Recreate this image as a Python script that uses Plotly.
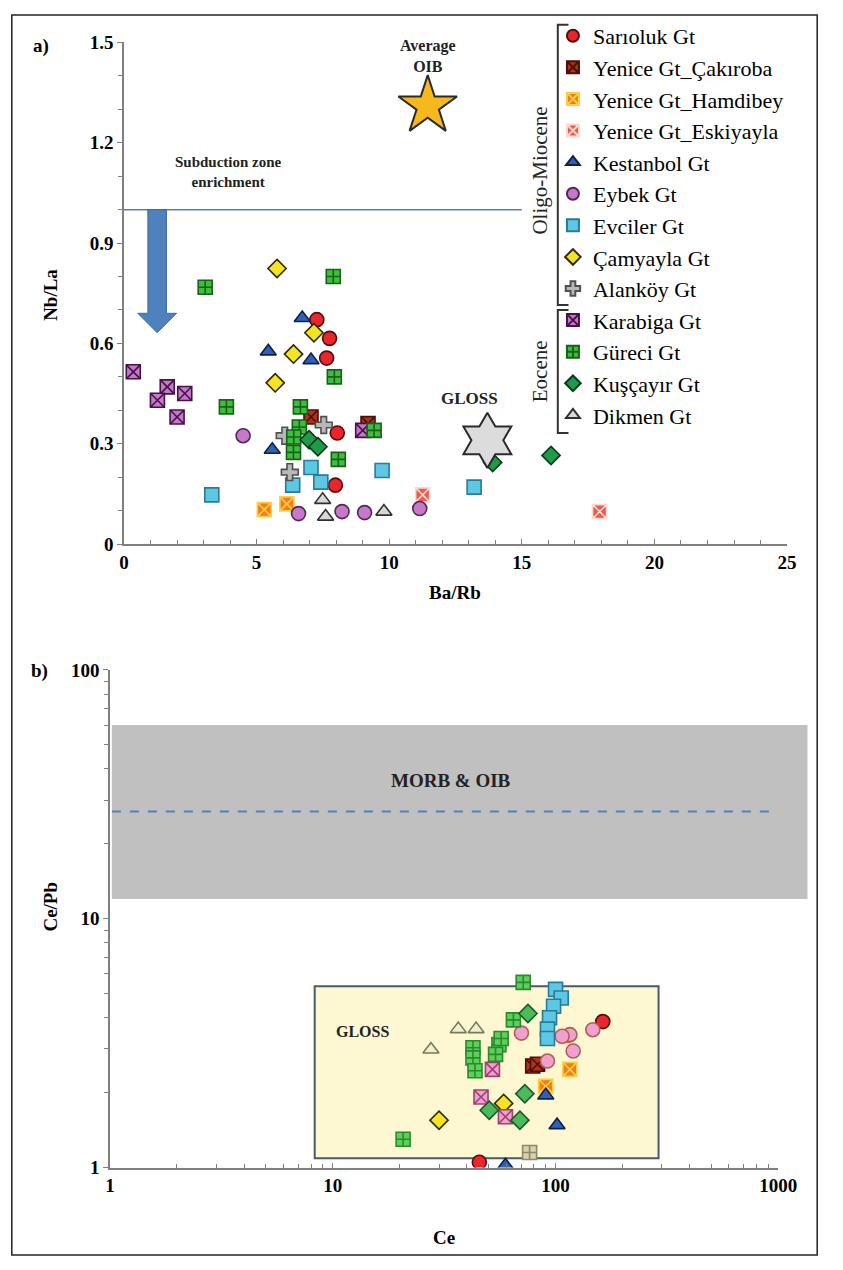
import plotly.graph_objects as go

W, H = 843, 1270

def px(x):
    return x / W

def py(y):
    return 1 - y / H

# ---------------- data ----------------
groups = ["Sarıoluk Gt", "Yenice Gt_Çakıroba", "Yenice Gt_Hamdibey", "Yenice Gt_Eskiyayla",
          "Kestanbol Gt", "Eybek Gt", "Evciler Gt", "Çamyayla Gt", "Alanköy Gt",
          "Karabiga Gt", "Güreci Gt", "Kuşçayır Gt", "Dikmen Gt"]

# panel a: Ba/Rb vs Nb/La
ba_rb = {
    "Sarıoluk Gt": [7.27, 7.75, 7.64, 8.04, 7.97],
    "Yenice Gt_Çakıroba": [7.05, 9.2],
    "Yenice Gt_Hamdibey": [5.29, 6.14],
    "Yenice Gt_Eskiyayla": [11.26, 17.93],
    "Kestanbol Gt": [6.72, 5.44, 7.05, 5.59],
    "Eybek Gt": [4.49, 6.58, 8.22, 9.07, 11.15],
    "Evciler Gt": [3.31, 7.05, 6.36, 7.42, 9.73, 13.2],
    "Çamyayla Gt": [5.77, 6.39, 5.70, 7.16],
    "Alanköy Gt": [7.53, 6.06, 6.25],
    "Karabiga Gt": [0.35, 1.63, 1.26, 2.29, 2.0, 9.0],
    "Güreci Gt": [3.06, 7.89, 7.93, 3.86, 6.65, 6.61, 6.39, 6.4, 8.08, 9.43],
    "Kuşçayır Gt": [6.98, 7.31, 13.9, 16.1],
    "Dikmen Gt": [7.49, 7.6, 9.8],
}
nb_la = {
    "Sarıoluk Gt": [0.671, 0.615, 0.556, 0.332, 0.176],
    "Yenice Gt_Çakıroba": [0.38, 0.36],
    "Yenice Gt_Hamdibey": [0.103, 0.12],
    "Yenice Gt_Eskiyayla": [0.147, 0.097],
    "Kestanbol Gt": [0.676, 0.576, 0.55, 0.282],
    "Eybek Gt": [0.324, 0.091, 0.097, 0.094, 0.106],
    "Evciler Gt": [0.147, 0.229, 0.176, 0.185, 0.22, 0.17],
    "Çamyayla Gt": [0.824, 0.568, 0.482, 0.632],
    "Alanköy Gt": [0.356, 0.324, 0.215],
    "Karabiga Gt": [0.515, 0.47, 0.43, 0.45, 0.38, 0.34],
    "Güreci Gt": [0.768, 0.80, 0.50, 0.41, 0.41, 0.35, 0.274, 0.32, 0.253, 0.34],
    "Kuşçayır Gt": [0.312, 0.291, 0.244, 0.265],
    "Dikmen Gt": [0.132, 0.082, 0.097],
}

# panel b: Ce vs Ce/Pb
ce = {
    "Sarıoluk Gt": [163, 45.5],
    "Yenice Gt_Çakıroba": [79, 83],
    "Yenice Gt_Hamdibey": [116, 90.4],
    "Yenice Gt_Eskiyayla": [112],
    "Kestanbol Gt": [90.4, 101.6, 59.6],
    "Eybek Gt": [70.3, 116, 107, 147, 120, 92],
    "Evciler Gt": [100, 106, 98, 94, 92, 92],
    "Çamyayla Gt": [30.0, 58.5],
    "Alanköy Gt": [76.5],
    "Karabiga Gt": [52.1, 46.3, 59.6],
    "Güreci Gt": [71.6, 64.7, 42.6, 42.6, 43.5, 55.7, 53.8, 57, 20.7],
    "Kuşçayır Gt": [75.2, 72.8, 50.4, 69.2],
    "Dikmen Gt": [27.6, 36.6, 44.0],
}
ce_pb = {
    "Sarıoluk Gt": [3.86, 1.05],
    "Yenice Gt_Çakıroba": [2.56, 2.6],
    "Yenice Gt_Hamdibey": [2.48, 2.12],
    "Yenice Gt_Eskiyayla": [3.35],
    "Kestanbol Gt": [1.95, 1.48, 1.02],
    "Eybek Gt": [3.47, 3.42, 3.37, 3.58, 2.94, 2.68],
    "Evciler Gt": [5.2, 4.8, 4.45, 4.0, 3.6, 3.3],
    "Çamyayla Gt": [1.55, 1.81],
    "Alanköy Gt": [1.15],
    "Karabiga Gt": [2.48, 1.92, 1.60],
    "Güreci Gt": [5.55, 3.92, 3.03, 2.76, 2.45, 3.12, 2.85, 3.3, 1.30],
    "Kuşçayır Gt": [4.16, 1.98, 1.70, 1.55],
    "Dikmen Gt": [2.98, 3.60, 3.60],
}

# reference compositions
oib_ba_rb, oib_nb_la = [11.45], [1.31]
gloss_ba_rb, gloss_nb_la = [13.7], [0.31]
morb_oib_cepb_range = [12, 60]
morb_oib_cepb_mean = 27
gloss_ce_range = [8.3, 290]
gloss_cepb_range = [1.09, 5.35]

# ---------------- styles ----------------
SERIF = "Liberation Serif"
style_a = {
    "Sarıoluk Gt": ("circle", "#e8262c", "#5a0a0a"),
    "Yenice Gt_Çakıroba": ("square-x", "#b03018", "#4a1008"),
    "Yenice Gt_Hamdibey": ("square-x", "#f47b20", "#f8d040"),
    "Yenice Gt_Eskiyayla": ("square-x", "#ec5a50", "#ffd8d0"),
    "Kestanbol Gt": ("triangle-up", "#2e62b8", "#10204a"),
    "Eybek Gt": ("circle", "#c878c8", "#502858"),
    "Evciler Gt": ("square", "#5cc8e4", "#2a7a9a"),
    "Çamyayla Gt": ("diamond", "#f4e424", "#302a00"),
    "Alanköy Gt": ("cross", "#b8b8b8", "#505050"),
    "Karabiga Gt": ("square-x", "#c07ac8", "#4a1048"),
    "Güreci Gt": ("square-cross", "#3cc03c", "#1a601a"),
    "Kuşçayır Gt": ("diamond", "#1e9a4a", "#0a3a18"),
    "Dikmen Gt": ("triangle-up", "#d8d8d8", "#303030"),
}
style_b = dict(style_a)
style_b.update({
    "Eybek Gt": ("circle", "#f0a0d0", "#b06050"),
    "Karabiga Gt": ("square-x", "#f0a0d0", "#a04070"),
    "Güreci Gt": ("square-cross", "#5cd05c", "#2a8a2a"),
    "Kuşçayır Gt": ("diamond", "#4aba5a", "#1a5a2a"),
    "Dikmen Gt": ("triangle-up", "#eeeed0", "#7a7a5a"),
    "Alanköy Gt": ("square-cross", "#d8d0b0", "#8a8a6a"),
})

fig = go.Figure()

for g in groups:
    sym, fc, lc = style_a[g]
    fig.add_trace(go.Scatter(
        x=ba_rb[g], y=nb_la[g], mode="markers", name=g, legendgroup=g,
        marker=dict(symbol=sym, size=14, color=fc, line=dict(color=lc, width=1.6)),
        xaxis="x", yaxis="y"))

for g in groups:
    sym, fc, lc = style_b[g]
    fig.add_trace(go.Scatter(
        x=ce[g], y=ce_pb[g], mode="markers", name=g, legendgroup=g, showlegend=False,
        marker=dict(symbol=sym, size=14, color=fc, line=dict(color=lc, width=1.6)),
        xaxis="x2", yaxis="y2"))

# reference stars
fig.add_trace(go.Scatter(x=oib_ba_rb, y=oib_nb_la, mode="markers", showlegend=False,
                         marker=dict(symbol="star", size=44, color="#f6b81c",
                                     line=dict(color="#2a2a2a", width=2)),
                         xaxis="x", yaxis="y"))
fig.add_trace(go.Scatter(x=gloss_ba_rb, y=gloss_nb_la, mode="markers", showlegend=False,
                         marker=dict(symbol="hexagram", size=42, color="#dcdcdc",
                                     line=dict(color="#2a2a2a", width=2)),
                         xaxis="x", yaxis="y"))

axis_common = dict(showline=True, linecolor="#808080", linewidth=1.5, showgrid=False,
                   zeroline=False, tickcolor="#808080", ticklen=5,
                   tickfont=dict(family=SERIF, size=19, color="black", weight="bold"))

fig.update_layout(
    width=W, height=H, margin=dict(l=0, r=0, t=0, b=0),
    paper_bgcolor="white", plot_bgcolor="white",
    xaxis=dict(domain=[px(122.5), px(805)], range=[0, 25], anchor="y", dtick=5, tick0=0,
               ticks="inside", minor=dict(dtick=1, ticks="inside", ticklen=4, tickcolor="#808080"),
               **axis_common),
    yaxis=dict(domain=[py(543), py(33)], range=[0, 1.5], anchor="x", dtick=0.3, tick0=0,
               ticks="outside", minor=dict(dtick=0.1, ticks="outside", ticklen=4, tickcolor="#808080"),
               **axis_common),
    xaxis2=dict(domain=[px(108), px(796)], type="log", range=[0, 3], anchor="y2", dtick=1,
                ticks="inside", minor=dict(dtick="D1", ticks="inside", ticklen=4, tickcolor="#808080"),
                **axis_common),
    yaxis2=dict(domain=[py(1177), py(671)], type="log", range=[0, 2], anchor="x2", dtick=1,
                ticks="outside", minor=dict(dtick="D1", ticks="outside", ticklen=4, tickcolor="#808080"),
                **axis_common),
    legend=dict(x=px(564), y=py(5), xanchor="left", yanchor="top",
                font=dict(family=SERIF, size=22, color="black"),
                bgcolor="rgba(0,0,0,0)", tracegroupgap=0, itemwidth=30,
                itemsizing="constant"),
    showlegend=True,
)

shapes = []
# outer frame
shapes.append(dict(type="rect", xref="paper", yref="paper", x0=px(7), x1=px(836), y0=py(1266), y1=py(5),
                   line=dict(color="#222222", width=1.5), fillcolor="rgba(0,0,0,0)"))
# subduction line
shapes.append(dict(type="line", xref="x", yref="y", x0=0, x1=15, y0=1.0, y1=1.0,
                   line=dict(color="#4f81bd", width=1.5)))
# arrow
shapes.append(dict(type="path", xref="x", yref="y",
                   path="M 0.9 1.0 L 1.6 1.0 L 1.6 0.69 L 1.98 0.69 L 1.25 0.632 L 0.52 0.69 L 0.9 0.69 Z",
                   fillcolor="#4f81bd", line=dict(color="#3a6a9f", width=1)))
# MORB & OIB band
shapes.append(dict(type="rect", xref="paper", yref="y2", x0=px(110), x1=px(826),
                   y0=morb_oib_cepb_range[0], y1=morb_oib_cepb_range[1],
                   fillcolor="#c0c0c0", line=dict(width=0), layer="below"))
shapes.append(dict(type="line", xref="paper", yref="y2", x0=px(110), x1=px(793),
                   y0=morb_oib_cepb_mean, y1=morb_oib_cepb_mean,
                   line=dict(color="#4f81bd", width=2, dash="dash")))
# GLOSS box
shapes.append(dict(type="rect", xref="x2", yref="y2", x0=gloss_ce_range[0], x1=gloss_ce_range[1],
                   y0=gloss_cepb_range[0], y1=gloss_cepb_range[1],
                   fillcolor="#fdf7d2", line=dict(color="#4a5a6a", width=2), layer="below"))
# legend brackets
bx = 569
for (y0, y1) in [(15, 300), (305, 430)]:
    shapes.append(dict(type="path", xref="paper", yref="paper",
                       path=f"M {px(bx+11)} {py(y0)} L {px(bx)} {py(y0)} L {px(bx)} {py(y1)} L {px(bx+11)} {py(y1)}",
                       line=dict(color="#333333", width=2)))
fig.update_layout(shapes=shapes)

bold = dict(family=SERIF, size=19, color="black", weight="bold")

def note(text, x, y, font, angle=0):
    return dict(text=text, x=px(x), y=py(y), xref="paper", yref="paper", showarrow=False,
                xanchor="center", yanchor="middle", font=font, textangle=angle)

ann = [
    note("a)", 37, 37, bold),
    note("b)", 35, 672, bold),
    note("Nb/La", 47, 290, bold, -90),
    note("Ba/Rb", 463, 592, bold),
    note("Ce/Pb", 47, 912, bold, -90),
    note("Ce", 452, 1248, bold),
    note("Subduction zone<br>enrichment", 230, 165, dict(family=SERIF, size=15, color="#222", weight="bold")),
    note("Average<br>OIB", 435, 47, dict(family=SERIF, size=16, color="#222", weight="bold")),
    note("GLOSS", 478, 395, dict(family=SERIF, size=17, color="#222", weight="bold")),
    note("MORB & OIB", 459, 783, dict(family=SERIF, size=19, color="#222", weight="bold")),
    note("GLOSS", 368, 1039, dict(family=SERIF, size=16, color="#222", weight="bold")),
    note("Oligo-Miocene", 551, 163, dict(family=SERIF, size=21, color="#222"), -90),
    note("Eocene", 551, 367, dict(family=SERIF, size=21, color="#222"), -90),
]
fig.update_layout(annotations=ann)

fig.write_html("out.html", post_script="document.body.style.margin='0';")
